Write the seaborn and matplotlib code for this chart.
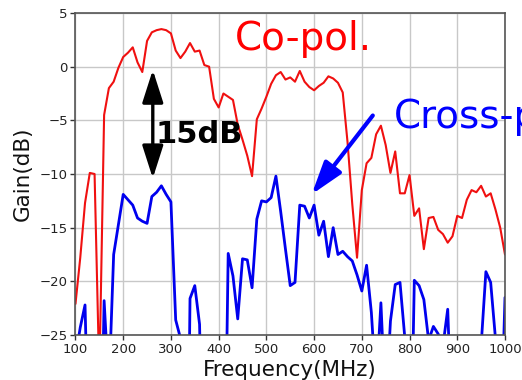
import matplotlib
matplotlib.use("Agg")
import matplotlib.pyplot as plt
import seaborn as sns

# Measured gain of the antenna, 100-1000 MHz in 10 MHz steps
freq_mhz = list(range(100, 1001, 10))

co_pol_db = [
    -22.1, -17.8, -12.7, -9.9, -10.0, -29.0, -4.5, -2.0, -1.4, -0.1,
    0.9, 1.3, 1.8, 0.4, -0.5, 2.4, 3.2, 3.4, 3.5, 3.4,
    3.1, 1.5, 0.8, 1.4, 2.2, 1.4, 1.5, 0.15, 0.0, -3.0,
    -3.8, -2.5, -2.8, -3.1, -5.4, -6.8, -8.3, -10.2, -4.9, -3.9,
    -2.8, -1.6, -0.8, -0.5, -1.2, -1.0, -1.4, -0.4, -1.4, -1.9,
    -2.2, -1.8, -1.5, -0.9, -1.1, -1.5, -2.4, -7.0, -12.8, -17.8,
    -11.5, -9.0, -8.5, -6.3, -5.5, -7.3, -9.9, -7.9, -11.8, -11.8,
    -10.1, -13.9, -13.2, -17.0, -14.1, -14.0, -15.2, -15.6, -16.4, -15.8,
    -13.9, -14.1, -12.4, -11.5, -11.7, -11.1, -12.1, -11.8, -13.3, -15.0,
    -17.5,
]

cross_pol_db = [
    -27.0, -24.3, -22.2, -40.0, -40.0, -45.0, -21.8, -30.0, -17.5, -14.7,
    -11.9, -12.4, -12.9, -14.1, -14.4, -14.6, -12.1, -11.7, -11.1, -11.9,
    -12.6, -23.6, -25.3, -60.0, -21.6, -20.4, -24.0, -45.0, -45.0, -45.0,
    -45.0, -48.0, -17.4, -19.5, -23.5, -17.9, -18.0, -20.6, -14.2, -12.5,
    -12.6, -12.2, -10.2, -13.5, -17.0, -20.4, -20.1, -12.9, -13.0, -14.1,
    -12.9, -15.7, -14.4, -17.7, -15.0, -17.5, -17.2, -17.7, -18.1, -19.4,
    -20.9, -18.5, -22.9, -30.0, -22.0, -32.0, -23.7, -20.3, -20.1, -25.2,
    -44.0, -19.9, -20.4, -21.7, -25.5, -24.2, -24.9, -26.0, -22.6, -35.0,
    -35.0, -35.0, -35.0, -35.0, -35.0, -26.0, -19.1, -20.1, -25.3, -36.6,
    -21.5,
]

x_ticks = [100, 200, 300, 400, 500, 600, 700, 800, 900, 1000]
y_ticks = [-25, -20, -15, -10, -5, 0, 5]

sns.set_style("whitegrid", rc={
    "axes.edgecolor": "#555555",
    "grid.color": "#c8c8c8",
    "xtick.bottom": True,
    "ytick.left": True,
    "xtick.color": "#333333",
    "ytick.color": "#333333",
})
plt.rcParams["font.family"] = ["DejaVu Sans"]

fig = plt.figure(figsize=(5.22, 3.80), dpi=100)
ax = fig.add_axes([0.1446, 0.1184, 0.8228, 0.8474])

sns.lineplot(x=freq_mhz, y=co_pol_db, color="#f01010", linewidth=1.5, ax=ax)
sns.lineplot(x=freq_mhz, y=cross_pol_db, color="#0000ee", linewidth=2.0, ax=ax)

ax.set_xlim(100, 1000)
ax.set_ylim(-25, 5)
ax.set_xticks(x_ticks)
ax.set_yticks(y_ticks)
ax.tick_params(axis="both", labelsize=9.5, length=3.5, width=1, pad=2,
               colors="#333333", labelcolor="#222222")
for s in ax.spines.values():
    s.set_linewidth(1.2)
    s.set_color("#555555")
ax.grid(True, linewidth=1.0, color="#c8c8c8")

ax.set_xlabel("Frequency(MHz)", fontsize=15.5, color="#111111", labelpad=3)
ax.set_ylabel("Gain(dB)", fontsize=15.5, color="#111111", labelpad=5)

# Series labels
ax.text(435, 1.55, "Co-pol.", color="red", fontsize=28, ha="left", va="baseline")
ax.text(767, -5.72, "Cross-pol.", color="blue", fontsize=28, ha="left",
        va="baseline", clip_on=False)

# 15 dB separation marker
ax.annotate("", xy=(262, -0.3), xytext=(262, -10.4),
            arrowprops=dict(arrowstyle="<|-|>,head_length=1.0,head_width=0.32",
                            mutation_scale=20, lw=2.4, color="black",
                            shrinkA=0, shrinkB=0))
ax.text(268, -7.09, "15dB", fontsize=22, fontweight="bold", color="black",
        ha="left", va="baseline")

# Pointer to the cross-polar trace
ax.annotate("", xy=(595, -11.9), xytext=(723, -4.55),
            arrowprops=dict(arrowstyle="-|>,head_length=1.0,head_width=0.32",
                            mutation_scale=20, lw=3.0, color="blue",
                            shrinkA=0, shrinkB=0))

fig.savefig("out.png", dpi=100)
